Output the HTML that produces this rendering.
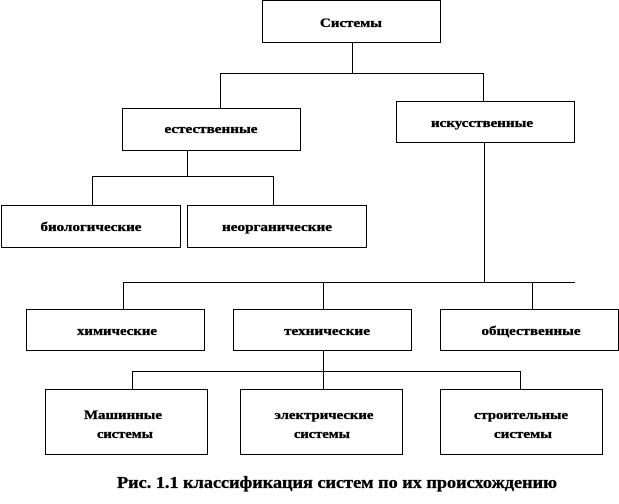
<!DOCTYPE html>
<html><head><meta charset="utf-8"><style>html,body{margin:0;padding:0;background:#fff;}svg{display:block}</style></head>
<body>
<svg width="619" height="504" viewBox="0 0 619 504" xmlns="http://www.w3.org/2000/svg" font-family="Liberation Serif, DejaVu Serif, serif" font-weight="bold" font-size="13">
<g fill="none" stroke="#000" stroke-width="1.2" shape-rendering="crispEdges">
<rect x="262.5" y="0.5" width="178" height="42"/>
<rect x="122.5" y="108.5" width="178" height="42"/>
<rect x="396.5" y="101.5" width="178" height="41"/>
<rect x="1.5" y="205.5" width="179" height="42"/>
<rect x="187.5" y="205.5" width="179" height="42"/>
<rect x="26.5" y="309.5" width="178" height="41"/>
<rect x="233.5" y="309.5" width="178" height="41"/>
<rect x="440.5" y="309.5" width="178" height="41"/>
<rect x="45.5" y="389.5" width="162" height="65"/>
<rect x="240.5" y="389.5" width="162" height="65"/>
<rect x="440.5" y="389.5" width="162" height="65"/>
<path d="M352.5 42V73.5M220 73.5H483.5M220.5 73V108M483.5 73V101"/>
<path d="M187.5 150V176.5M92 176.5H274M92.5 176V205M273.5 176V205"/>
<path d="M484.5 142V282.5M123 282.5H575M123.5 282V309M323.5 282V309M532.5 282V309"/>
<path d="M323.5 350V389M132 371.5H520.5M132.5 371V389M520.5 371V389"/>
</g>
<g text-anchor="middle" fill="#000" stroke="#000" stroke-width="0.35">
<text x="351" y="27" textLength="62" lengthAdjust="spacingAndGlyphs">Системы</text>
<text x="211" y="133" textLength="93" lengthAdjust="spacingAndGlyphs">естественные</text>
<text x="482" y="127" textLength="102" lengthAdjust="spacingAndGlyphs">искусственные</text>
<text x="91" y="231" textLength="101" lengthAdjust="spacingAndGlyphs">биологические</text>
<text x="277" y="231" textLength="110" lengthAdjust="spacingAndGlyphs">неорганические</text>
<text x="117" y="335" textLength="80" lengthAdjust="spacingAndGlyphs">химические</text>
<text x="327" y="335" textLength="86" lengthAdjust="spacingAndGlyphs">технические</text>
<text x="531" y="335" textLength="99" lengthAdjust="spacingAndGlyphs">общественные</text>
<text x="123" y="419" textLength="78" lengthAdjust="spacingAndGlyphs">Машинные</text>
<text x="125" y="438" textLength="56" lengthAdjust="spacingAndGlyphs">системы</text>
<text x="324" y="419" textLength="99" lengthAdjust="spacingAndGlyphs">электрические</text>
<text x="322" y="438" textLength="56" lengthAdjust="spacingAndGlyphs">системы</text>
<text x="521" y="419" textLength="94" lengthAdjust="spacingAndGlyphs">строительные</text>
<text x="523" y="438" textLength="58" lengthAdjust="spacingAndGlyphs">системы</text>
<text x="337" y="488" font-size="17" textLength="440" lengthAdjust="spacingAndGlyphs">Рис. 1.1 классификация систем по их происхождению</text>
</g>
</svg>
</body></html>
